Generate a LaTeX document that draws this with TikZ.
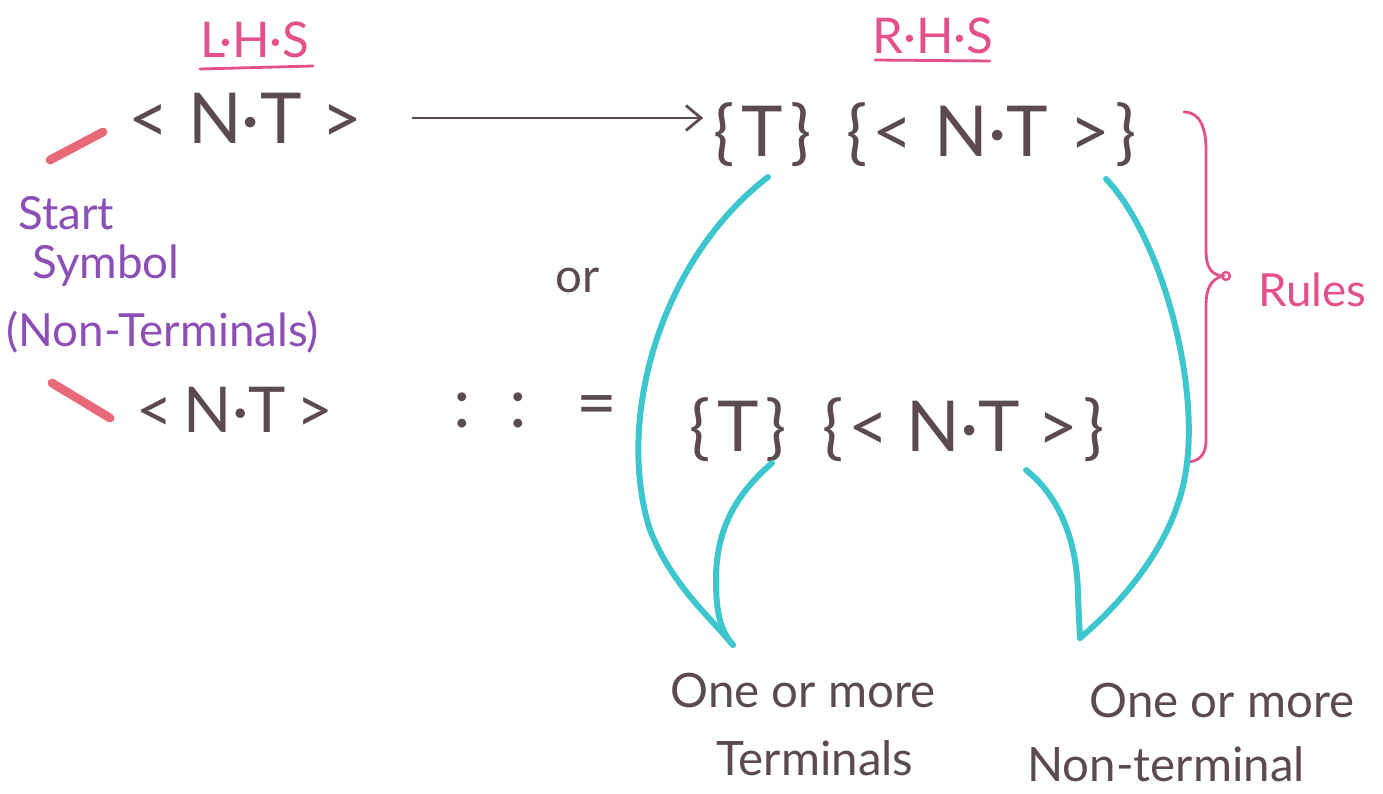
\documentclass[tikz,border=0pt]{standalone}
\usepackage{fontspec}
\setmainfont{Lato}
\usetikzlibrary{arrows.meta,calc}
\definecolor{ink}{HTML}{5B4B4E}
\definecolor{pinkc}{HTML}{E4508A}
\definecolor{purp}{HTML}{8C4FB5}
\definecolor{cyanc}{HTML}{3EC6CF}
\definecolor{tickc}{HTML}{E86A78}
\begin{document}
\begin{tikzpicture}[x=0.02cm,y=-0.02cm,
  inktext/.style={text=ink,inner sep=0pt,font=\fontsize{40}{44}\selectfont},
  smallink/.style={text=ink,inner sep=0pt,font=\fontsize{36}{40}\selectfont},
  headtext/.style={text=pinkc,inner sep=0pt,font=\fontsize{28}{32}\selectfont},
  purptext/.style={text=purp,inner sep=0pt,anchor=west,font=\fontsize{26}{30}\selectfont},
  notetext/.style={text=ink,inner sep=0pt,font=\fontsize{27}{30}\selectfont},
  underl/.style={draw=pinkc,line width=1.6pt,line cap=round},
  tick/.style={draw=tickc,line width=5pt,line cap=round},
  flow/.style={draw=cyanc,line width=3.4pt,line cap=round},
  arrowline/.style={draw=ink,line width=1.6pt,-{Straight Barb[length=3mm,width=5mm]}},
  bracec/.style={draw=pinkc,line width=1.6pt,line cap=round}]
\useasboundingbox (0,0) rectangle (1383,794);
\fill[white] (0,0) rectangle (1383,794);

% headings
\node[headtext] (lhs) at (255,40) {L·H·S};
\node[headtext] (rhs) at (933,36) {R·H·S};
\draw[underl] (200,69) -- (313,66);
\draw[underl] (875,60) -- (990,61);

% top production
\node[inktext] (lhs1) at (245,118) {<\hspace{11pt}N·T\hspace{11pt}>};
\node[inktext] (rhs1) at (925,135) {\{\hspace{4pt}T\hspace{4pt}\}\hspace{20pt}\{\hspace{3pt}<\hspace{12pt}N·T\hspace{12pt}>\hspace{3pt}\}};
\draw[arrowline,shorten <=1cm,shorten >=0.2cm] (lhs1.east) -- (rhs1.west |- lhs1.east);

% second production
\node[smallink] (lhs2) at (235,410) {<\,N·T\,>};
\node[inktext] (eq) at (535,410) {:\hspace{22pt}:\hspace{28pt}=};
\node[inktext] (rhs2) at (897,430) {\{\hspace{4pt}T\hspace{4pt}\}\hspace{20pt}\{\hspace{3pt}<\hspace{10pt}N·T\hspace{10pt}>\hspace{3pt}\}};
\node[notetext] (or) at (578,280) {or};

% start symbol
\node[purptext] (st1) at (18,213) {Start};
\node[purptext] (st2) at (32,266) {Symbol};
\node[purptext] (st3) at (6,332) {(Non-Terminals)};
\coordinate (t1a) at (50,160);
\coordinate (t1b) at (103,132);
\coordinate (t2a) at (52,383);
\coordinate (t2b) at (110,418);
\draw[tick] (t1a) -- (t1b);
\draw[tick] (t2a) -- (t2b);

% rules brace
\node[text=pinkc,inner sep=0pt,font=\fontsize{26}{30}\selectfont,anchor=west] (rules) at (1258,290) {Rules};
\coordinate (btip) at (1222,276);
\draw[bracec] (1184,112) .. controls (1200,112) and (1206,128) .. (1206,150) -- (1206,250)
  .. controls (1206,266) and (1210,274) .. (btip)
  .. controls (1210,280) and (1206,290) .. (1206,305) -- (1206,440)
  .. controls (1206,456) and (1198,462) .. (1186,462);
\draw[pinkc,line width=1.4pt] ($(btip)+(4,0)$) circle (2.2pt);

% labels below
\node[notetext] (n1a) at (803,690) {One or more};
\node[notetext] (n1b) at (815,758) {Terminals};
\node[notetext] (n2a) at (1222,700) {One or more};
\node[notetext] (n2b) at (1166,764) {Non-terminal};

% cyan flows
\coordinate (c1s) at (768,177);
\coordinate (c2s) at (772,463);
\coordinate (m1) at (733,645);
\coordinate (c3s) at (1106,179);
\coordinate (c4s) at (1026,470);
\coordinate (m2) at (1080,638);
\draw[flow] (c1s) .. controls (660,260) and (615,420) .. (650,530) .. controls (672,585) and (708,615) .. (m1);
\draw[flow] (c2s) .. controls (735,495) and (716,530) .. (716,580) .. controls (716,612) and (720,630) .. (m1);
\draw[flow] (c3s) .. controls (1160,235) and (1200,380) .. (1186,470) .. controls (1176,540) and (1125,600) .. (m2);
\draw[flow] (c4s) .. controls (1064,500) and (1078,550) .. (1078,598) -- (m2);
\end{tikzpicture}
\end{document}
